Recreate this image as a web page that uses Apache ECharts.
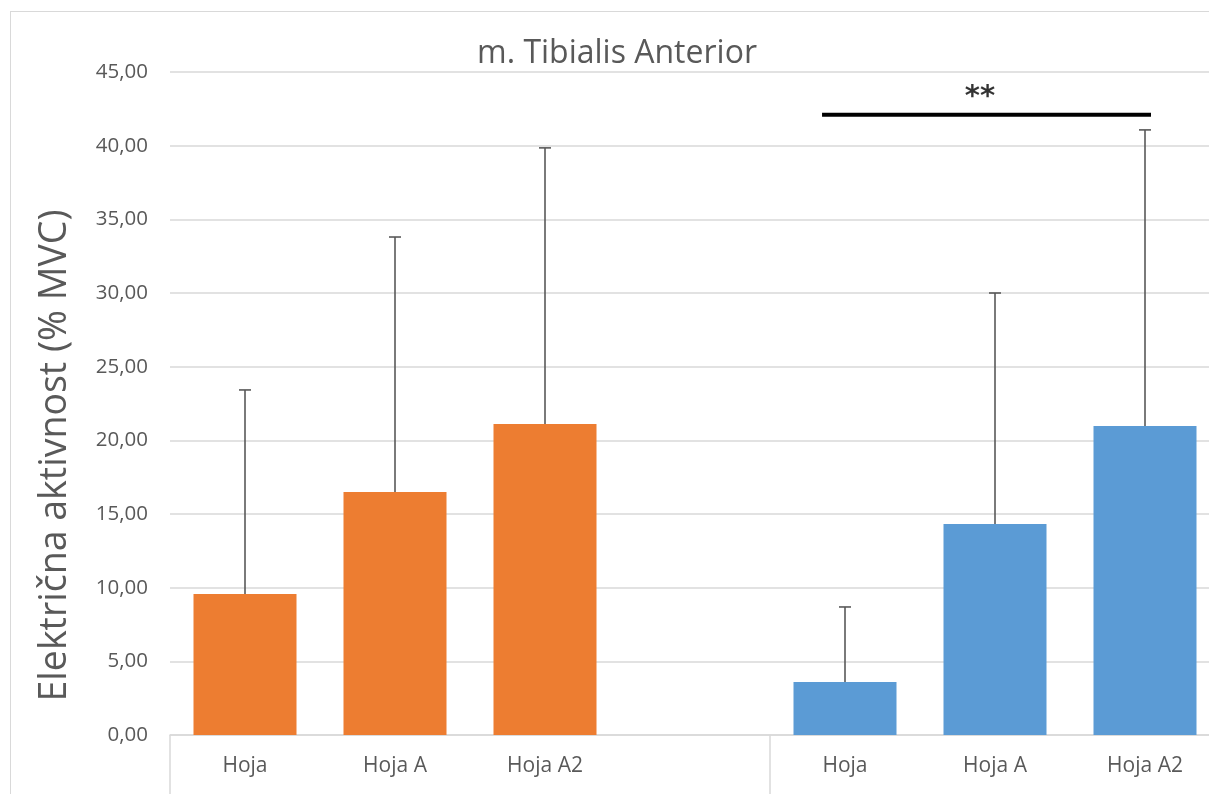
<!DOCTYPE html>
<html>
<head>
<meta charset="utf-8">
<script src="https://cdn.jsdelivr.net/npm/echarts@6/dist/echarts.min.js"></script>
<style>
html,body{margin:0;padding:0;background:#fff;overflow:hidden;width:1209px;height:794px;}
#wrap{position:relative;width:1209px;height:794px;overflow:hidden;}
#c{position:absolute;left:0;top:0;width:1240px;height:794px;}
#frame{position:absolute;left:10px;top:11px;width:1300px;height:900px;border-left:1.5px solid #d9d9d9;border-top:1.5px solid #d9d9d9;pointer-events:none;}
</style>
</head>
<body>
<div id="wrap"><div id="c"></div><div id="frame"></div></div>
<script>
// ---- data ----
const categories = ['Hoja', 'Hoja A', 'Hoja A2', '', 'Hoja', 'Hoja A', 'Hoja A2'];
const means = [9.57, 16.50, 21.11, null, 3.60, 14.32, 20.98];
const sds   = [13.85, 17.30, 18.74, null, 5.09, 15.68, 20.09];
const groups = ['orange', 'orange', 'orange', null, 'blue', 'blue', 'blue'];
const yTicks = [0, 5, 10, 15, 20, 25, 30, 35, 40, 45];
const sigBracketX = [4.347, 6.54];   // in category-width units from the left of the axis
const sigBracketY = 42.1;
const sigLabelPos = [5.40, 43.3];
const sigLabel = '**';

const colors = { orange: '#ED7D31', blue: '#5B9BD5' };

const barData = means.map((v, i) => v == null ? '-' : { value: v, itemStyle: { color: colors[groups[i]] } });
const errData = [];
means.forEach((v, i) => { if (v != null) errData.push([i, v, sds[i]]); });

const chart = echarts.init(document.getElementById('c'));
chart.setOption({
  animation: false,
  backgroundColor: 'transparent',
  title: {
    text: 'm. Tibialis Anterior',
    left: 612, top: 33, textAlign: 'center',
    textStyle: { fontFamily: 'Open Sans', fontSize: 32, fontWeight: 'normal', color: '#595959' }
  },
  grid: { left: 170, top: 72, width: 1050, height: 663, containLabel: false },
  xAxis: [{
    type: 'category',
    data: categories,
    boundaryGap: true,
    axisLine: { show: true, lineStyle: { color: '#d9d9d9', width: 1.5 } },
    axisTick: {
      show: true, length: 60,
      interval: function (i) { return i === 0 || i === 4; },
      lineStyle: { color: '#d9d9d9', width: 1.5 }
    },
    axisLabel: { margin: 21, fontFamily: 'Open Sans', fontSize: 21, color: '#595959', interval: 0 },
    splitLine: { show: false }
  }, {
    type: 'value', min: 0, max: 7, show: false
  }],
  yAxis: {
    type: 'value', min: 0, max: 45, interval: 5,
    name: 'Električna aktivnost (% MVC)',
    nameLocation: 'middle', nameGap: 96, nameRotate: 90,
    nameTextStyle: { fontFamily: 'Open Sans', fontSize: 37.5, color: '#595959', padding: [0, 104, 0, 0] },
    axisLine: { show: false },
    axisTick: { show: false },
    axisLabel: {
      margin: 22, fontFamily: 'Open Sans', fontSize: 20.5, color: '#595959',
      formatter: function (v) { return yTicks.indexOf(v) >= 0 ? v.toFixed(2).replace('.', ',') : ''; }
    },
    splitLine: { lineStyle: { color: '#d9d9d9', width: 1.5 } }
  },
  series: [{
    type: 'bar',
    data: barData,
    barWidth: 103,
    z: 2
  }, {
    type: 'custom',
    data: errData,
    z: 3,
    renderItem: function (params, api) {
      const x = api.value(0), m = api.value(1), s = api.value(2);
      const p0 = api.coord([x, m]);
      const p1 = api.coord([x, m + s]);
      const cap = 6;
      const st = { stroke: '#595959', lineWidth: 1.6 };
      return { type: 'group', children: [
        { type: 'line', shape: { x1: p0[0], y1: p0[1], x2: p1[0], y2: p1[1] }, style: st },
        { type: 'line', shape: { x1: p1[0] - cap, y1: p1[1], x2: p1[0] + cap, y2: p1[1] }, style: st }
      ] };
    }
  }, {
    type: 'line',
    xAxisIndex: 1,
    data: [[sigBracketX[0], sigBracketY], [sigBracketX[1], sigBracketY]],
    symbol: 'none',
    lineStyle: { color: '#000', width: 4 },
    z: 4
  }, {
    type: 'scatter',
    xAxisIndex: 1,
    data: [sigLabelPos],
    symbolSize: 0,
    label: {
      show: true, position: 'inside', formatter: sigLabel,
      fontFamily: 'DejaVu Sans', fontWeight: 'bold', fontSize: 29, color: '#000'
    },
    z: 5
  }]
});
</script>
</body>
</html>
